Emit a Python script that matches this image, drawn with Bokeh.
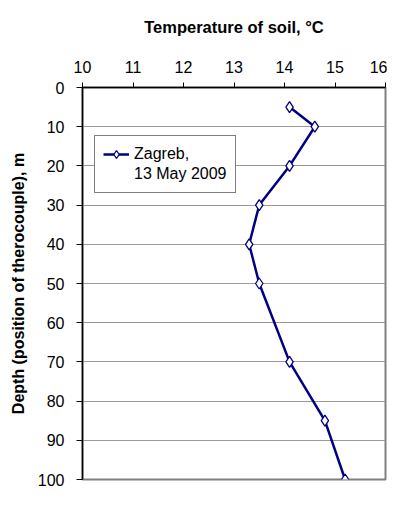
from bokeh.plotting import figure
from bokeh.models import Range1d, FixedTicker, Legend, LegendItem
from bokeh.embed import file_html
from bokeh.resources import INLINE

# data
depth = [5, 10, 20, 30, 40, 50, 70, 85, 100]
temperature = [14.1, 14.6, 14.1, 13.5, 13.3, 13.5, 14.1, 14.8, 15.2]
x_ticks = [10, 11, 12, 13, 14, 15, 16]
y_ticks = [0, 10, 20, 30, 40, 50, 60, 70, 80, 90, 100]
legend_lines = ["Zagreb,", "13 May 2009"]

NAVY = "#000080"
FONT = "Liberation Sans"

p = figure(width=387, height=489, output_backend="svg", toolbar_location=None,
           x_range=Range1d(10, 16), y_range=Range1d(100, 0),
           x_axis_location="above",
           min_border_left=82, min_border_top=87, min_border_right=2, min_border_bottom=10)

p.outline_line_color = "#808080"
p.outline_line_width = 2
p.background_fill_color = "white"
p.border_fill_color = "white"

p.xgrid.visible = False
p.ygrid.ticker = FixedTicker(ticks=y_ticks)
p.ygrid.grid_line_color = "#999999"
p.ygrid.grid_line_width = 1

xa = p.xaxis[0]
xa.ticker = FixedTicker(ticks=x_ticks)
xa.axis_label = "Temperature of soil, \u00b0C"
xa.axis_label_text_font = FONT
xa.axis_label_text_font_style = "bold"
xa.axis_label_text_font_size = "16.5px"
xa.axis_label_text_color = "black"
xa.axis_label_standoff = 22
xa.major_label_text_font = FONT
xa.major_label_text_font_size = "16px"
xa.major_label_text_color = "black"
xa.major_label_standoff = 10
xa.major_tick_out = 5
xa.major_tick_in = 0
xa.minor_tick_out = 0
xa.minor_tick_in = 0
xa.axis_line_color = "black"
xa.axis_line_width = 1.5
xa.major_tick_line_color = "black"

ya = p.yaxis[0]
ya.ticker = FixedTicker(ticks=y_ticks)
ya.axis_label = "Depth (position of therocouple), m"
ya.axis_label_text_font = FONT
ya.axis_label_text_font_style = "bold"
ya.axis_label_text_font_size = "16px"
ya.axis_label_text_color = "black"
ya.axis_label_standoff = 8
ya.major_label_text_font = FONT
ya.major_label_text_font_size = "16px"
ya.major_label_text_color = "black"
ya.major_label_standoff = 12
ya.major_tick_out = 6
ya.major_tick_in = 0
ya.minor_tick_out = 0
ya.minor_tick_in = 0
ya.axis_line_color = "black"
ya.axis_line_width = 1.5
ya.major_tick_line_color = "black"

r_line = p.line(temperature, depth, line_color=NAVY, line_width=2.5)
r_pts = p.scatter(temperature, depth, marker="diamond", size=11,
                  fill_color="white", line_color=NAVY, line_width=1.3)
r_blank = p.line([], [], line_alpha=0)

legend = Legend(items=[LegendItem(label=legend_lines[0], renderers=[r_line, r_pts]),
                       LegendItem(label=legend_lines[1], renderers=[r_blank])],
                location=(12, 286))
legend.border_line_color = "black"
legend.border_line_width = 1
legend.background_fill_color = "white"
legend.background_fill_alpha = 1
legend.label_text_font = FONT
legend.label_text_font_size = "16px"
legend.label_text_color = "black"
legend.label_height = 20
legend.glyph_height = 20
legend.glyph_width = 26
legend.label_standoff = 5
legend.spacing = 0
legend.padding = 8
legend.margin = 0
p.add_layout(legend, "center")

open("out.html", "w").write(file_html(p, INLINE))
